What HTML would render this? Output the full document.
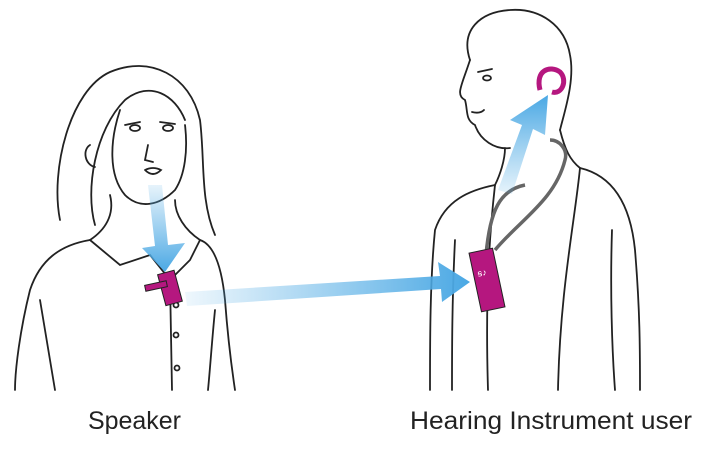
<!DOCTYPE html>
<html><head><meta charset="utf-8"><style>
html,body{margin:0;padding:0;background:#fff;}
svg{display:block}
text{font-family:"Liberation Sans",sans-serif;font-size:25px;fill:#222}
</style></head><body>
<svg width="719" height="465" viewBox="0 0 719 465" xmlns="http://www.w3.org/2000/svg">
<defs>
<linearGradient id="g1" x1="0" y1="0" x2="1" y2="0"><stop offset="0" stop-color="#5ab0e6" stop-opacity="0.1"/><stop offset="1" stop-color="#4aa8e4"/></linearGradient>
<linearGradient id="g2" x1="0" y1="0" x2="0" y2="1"><stop offset="0" stop-color="#5ab0e6" stop-opacity="0.15"/><stop offset="1" stop-color="#4aa8e4"/></linearGradient>
<linearGradient id="g3" x1="0" y1="1" x2="0" y2="0"><stop offset="0" stop-color="#5ab0e6" stop-opacity="0.15"/><stop offset="1" stop-color="#4aa8e4"/></linearGradient>
</defs>
<g fill="none" stroke="#222" stroke-width="1.8" stroke-linecap="round">
<path d="M60,220 C50,170 70,90 110,72 C150,55 190,75 200,120 C205,160 200,200 215,235"/>
<path d="M95,225 C85,190 95,130 125,100 C150,80 175,95 185,120"/>
<path d="M120,110 C110,140 108,175 125,195 C140,210 160,205 175,190 C185,175 188,150 185,125"/>
<path d="M125,125 l15,-3 M160,122 l15,2"/>
<ellipse cx="135" cy="128" rx="5" ry="3"/><ellipse cx="168" cy="128" rx="5" ry="3"/>
<path d="M148,145 l-3,15 l8,2"/>
<path d="M145,170 q8,-4 16,0 q-8,8 -16,0"/>
<path d="M90,145 c-8,5 -5,20 5,22"/>
<path d="M110,195 C115,215 105,230 90,240"/>
<path d="M175,200 C175,215 185,230 200,240"/>
<path d="M90,240 C60,245 40,260 30,290 C20,330 15,370 15,390"/>
<path d="M200,240 C215,245 222,270 225,300 C228,340 232,370 235,390"/>
<path d="M40,300 C45,330 50,360 55,390"/>
<path d="M215,310 C212,340 210,370 208,390"/>
<path d="M90,240 L120,265 L150,255 L170,280 L190,260 L200,240"/>
<path d="M170,280 L172,390"/>
<circle cx="176" cy="305" r="2.5"/><circle cx="176" cy="335" r="2.5"/><circle cx="177" cy="368" r="2.5"/>
<path d="M470,60 C460,30 480,12 510,10 C540,8 565,25 570,55 C575,80 565,110 560,130"/>
<path d="M470,60 C462,85 455,95 465,100 C468,110 465,120 475,125 C480,140 495,150 510,148"/>
<path d="M478,72 l14,-3"/>
<ellipse cx="487" cy="78" rx="4" ry="2.5"/>
<path d="M472,112 q8,2 12,-2"/>
<path d="M505,148 C505,160 500,175 495,185"/>
<path d="M560,130 C565,150 570,160 580,168"/>
<path d="M495,185 C470,190 445,200 435,230 C430,280 430,340 430,390"/>
<path d="M580,168 C610,175 630,200 635,250 C640,310 640,350 640,390"/>
<path d="M455,240 C452,300 452,350 452,390"/>
<path d="M612,230 C610,290 612,350 615,390"/>
<path d="M495,185 C490,230 485,290 488,390"/>
<path d="M580,168 C575,220 560,290 558,390"/>
</g>
<path d="M486,255 C490,210 500,190 525,185 M495,250 C520,220 555,200 565,160 C568,150 560,140 550,140" fill="none" stroke="#666" stroke-width="3.5"/>
<path d="M540,90 C535,70 550,65 560,72 C568,80 562,95 552,92" fill="none" stroke="#b5177f" stroke-width="5"/>
<path d="M148,185 L162,185 L168,245 L185,243 L165,272 L142,248 L155,246 Z" fill="url(#g2)"/>
<path d="M185,292 L440,276 L438,262 L470,282 L442,302 L441,289 L187,306 Z" fill="url(#g1)"/>
<path d="M498,190 L522,125 L510,120 L548,95 L545,135 L533,129 L512,194 Z" fill="url(#g3)"/>
<g transform="rotate(-15 170 290)"><rect x="162" y="272" width="17" height="32" fill="#b5177f" stroke="#222"/></g>
<rect x="145" y="283" width="22" height="6" fill="#b5177f" stroke="#222" transform="rotate(-12 156 286)"/>
<g transform="rotate(-12 487 280)"><rect x="475" y="250" width="24" height="60" fill="#b5177f" stroke="#222"/>
<text x="479" y="275" style="font-size:9px;fill:#fff">ꞩ♪</text></g>
<text x="88" y="429" textLength="93" lengthAdjust="spacingAndGlyphs">Speaker</text>
<text x="410" y="429" textLength="282" lengthAdjust="spacingAndGlyphs">Hearing Instrument user</text>
</svg>
</body></html>
